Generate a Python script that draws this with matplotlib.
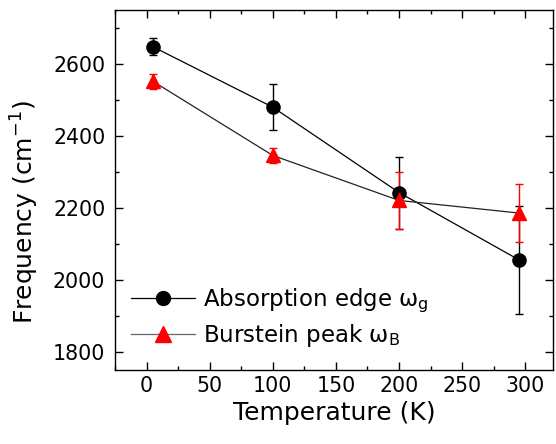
import matplotlib
matplotlib.use("Agg")
import matplotlib.pyplot as plt
from matplotlib.ticker import MultipleLocator
from matplotlib.lines import Line2D

plt.rcParams['font.family'] = ['DejaVu Sans']
plt.rcParams['mathtext.fontset'] = 'dejavusans'

# Data
temp_edge = [5, 100, 200, 295]
freq_edge = [2648, 2480, 2243, 2056]
err_edge = [24, 64, 100, 150]

temp_burst = [5, 100, 200, 295]
freq_burst = [2552, 2346, 2221, 2186]
err_burst = [21, 21, 79, 81]

xticks = [0, 50, 100, 150, 200, 250, 300]
yticks = [1800, 2000, 2200, 2400, 2600]

label_edge = 'Absorption edge ω$_\\mathrm{g}$'
label_burst = 'Burstein peak ω$_\\mathrm{B}$'

fig = plt.figure(figsize=(5.56, 4.44), dpi=100)
ax = fig.add_axes([115/556, 1-370/444, (553-115)/556, 360/444])

ax.errorbar(temp_edge, freq_edge, yerr=err_edge, fmt='o-', color='black',
            ecolor='black', markersize=9.5, linewidth=0.9, elinewidth=1.0,
            capsize=3, capthick=1.0, zorder=3)
ax.errorbar(temp_burst, freq_burst, yerr=err_burst, fmt='^-', color='#222222',
            markerfacecolor='red', markeredgecolor='red', ecolor='red',
            markersize=10, linewidth=0.9, elinewidth=1.0,
            capsize=3, capthick=1.0, zorder=3)

ax.set_xlim(-25, 322)
ax.set_ylim(1750, 2750)
ax.set_xticks(xticks)
ax.set_yticks(yticks)
ax.xaxis.set_minor_locator(MultipleLocator(25))
ax.yaxis.set_minor_locator(MultipleLocator(100))
ax.tick_params(which='both', direction='in', top=True, right=True, width=1.0, labelsize=14.8)
ax.tick_params(which='major', length=6)
ax.tick_params(which='minor', length=3)
ax.tick_params(axis='x', pad=4)
ax.tick_params(axis='y', pad=7)
for s in ax.spines.values():
    s.set_linewidth(1.0)

ax.set_xlabel('Temperature (K)', fontsize=18, labelpad=4)
ax.set_ylabel('Frequency (cm$^{-1}$)', fontsize=18)
ax.yaxis.set_label_coords(-0.168, 0.438)

handles = [
    Line2D([], [], color='black', linewidth=0.9, marker='o', markersize=10,
           markerfacecolor='black', markeredgecolor='black'),
    Line2D([], [], color='#666666', linewidth=0.9, marker='^', markersize=11,
           markerfacecolor='red', markeredgecolor='red'),
]
leg = ax.legend(handles, [label_edge, label_burst], loc='lower left',
                bbox_to_anchor=(0.0, 0.015), frameon=False,
                fontsize=16.5, handlelength=2.8, handletextpad=0.35,
                labelspacing=0.3, numpoints=1, borderaxespad=0.3)

fig.savefig('out.png', dpi=100)
